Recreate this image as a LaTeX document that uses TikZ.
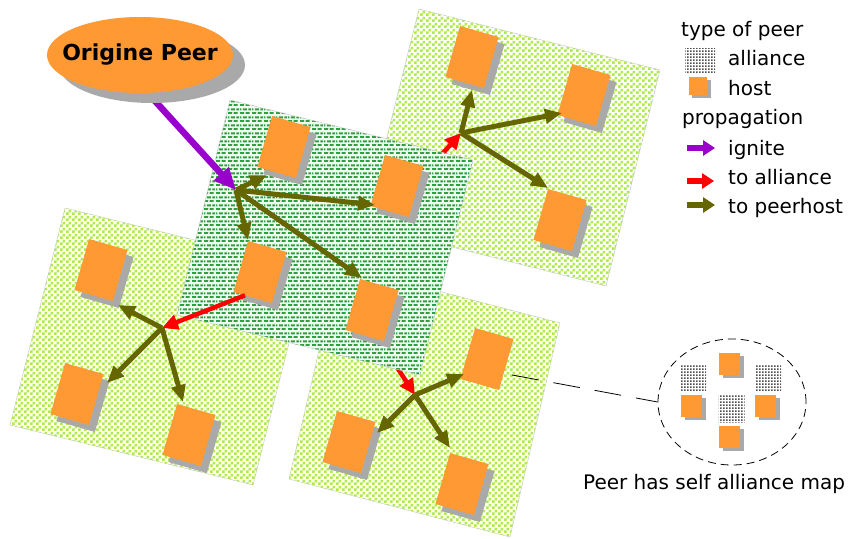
\documentclass[tikz,border=0pt]{standalone}
\usepackage{fontspec}
\setmainfont{DejaVu Sans}
\usetikzlibrary{arrows.meta,shapes.geometric,shadows,patterns,calc}

\definecolor{hostorange}{HTML}{FF9933}
\definecolor{shadowgray}{HTML}{A9A9A9}
\definecolor{ignitepurple}{HTML}{9900CC}
\definecolor{alliancered}{HTML}{FF0000}
\definecolor{peerolive}{HTML}{666600}
\definecolor{limedot}{HTML}{AEEB48}
\definecolor{greendash}{HTML}{2EA040}
\definecolor{greenbase}{HTML}{F2F9F2}
\definecolor{griddot}{HTML}{505050}

\pgfdeclarepatternformonly{lightdots}{\pgfqpoint{0pt}{0pt}}{\pgfqpoint{6pt}{6pt}}{\pgfqpoint{6pt}{6pt}}{%
  \pgfpathrectangle{\pgfqpoint{0pt}{0pt}}{\pgfqpoint{3pt}{3pt}}%
  \pgfpathrectangle{\pgfqpoint{3pt}{3pt}}{\pgfqpoint{3pt}{3pt}}%
  \pgfusepath{fill}}

\pgfdeclarepatternformonly{darkdash}{\pgfqpoint{0pt}{0pt}}{\pgfqpoint{12pt}{8pt}}{\pgfqpoint{12pt}{8pt}}{%
  \pgfpathrectangle{\pgfqpoint{0pt}{0pt}}{\pgfqpoint{4.5pt}{2.2pt}}%
  \pgfpathrectangle{\pgfqpoint{6pt}{0pt}}{\pgfqpoint{4.5pt}{2.2pt}}%
  \pgfpathrectangle{\pgfqpoint{3pt}{4pt}}{\pgfqpoint{4.5pt}{2.2pt}}%
  \pgfpathrectangle{\pgfqpoint{9pt}{4pt}}{\pgfqpoint{3pt}{2.2pt}}%
  \pgfpathrectangle{\pgfqpoint{0pt}{4pt}}{\pgfqpoint{1.5pt}{2.2pt}}%
  \pgfusepath{fill}}

\pgfdeclarepatternformonly{finegrid}{\pgfqpoint{0pt}{0pt}}{\pgfqpoint{3pt}{3pt}}{\pgfqpoint{3pt}{3pt}}{%
  \pgfpathrectangle{\pgfqpoint{0pt}{0pt}}{\pgfqpoint{2pt}{2pt}}%
  \pgfusepath{fill}}

\tikzset{
  region/.style={preaction={fill=white}, pattern=lightdots, pattern color=limedot, draw=gray!45, line width=0.4pt},
  allianceregion/.style={preaction={fill=greenbase}, pattern=darkdash, pattern color=greendash, draw=gray!45, line width=0.4pt},
  hostbox/.style={rectangle, fill=hostorange, minimum width=40pt, minimum height=53pt, inner sep=0pt, outer sep=0pt, rotate=-16},
  hostshadow/.style={drop shadow={shadow xshift=6pt, shadow yshift=-7pt, fill=shadowgray, opacity=1}},
  smallhost/.style={rectangle, fill=hostorange, minimum width=21pt, minimum height=22pt, inner sep=0pt,
    drop shadow={shadow xshift=4pt, shadow yshift=-3pt, fill=shadowgray, opacity=1}},
  alliancesq/.style={rectangle, preaction={fill=white}, pattern=finegrid, pattern color=griddot, minimum width=26pt, minimum height=27pt, inner sep=0pt},
  peer/.style={draw=peerolive, line width=5pt, -{Triangle[length=17pt,width=14pt]}},
  toall/.style={draw=alliancered, line width=4.5pt, -{Triangle[length=16pt,width=15pt]}},
  ignite/.style={draw=ignitepurple, line width=6.5pt, -{Triangle[length=22pt,width=19pt]}},
  legarrow/.style={line width=6pt, -{Triangle[length=12pt,width=15pt]}},
  lbl/.style={anchor=base west, inner sep=0pt, font=\fontsize{20}{24}\selectfont},
}

\begin{document}
\begin{tikzpicture}[x=1pt,y=-1pt]
\useasboundingbox (0,0) rectangle (848,538);

% hubs and free ends
\coordinate (hubC) at (236,190);
\coordinate (hubL) at (162,328);
\coordinate (hubT) at (461,133);
\coordinate (hubB) at (415,395);
\coordinate (redTstart) at (426,172);
\coordinate (redBstart) at (389,355);
\coordinate (ignStart) at (145,90);

% peer regions
\path[region] (65,208) -- (308,268) -- (253,485) -- (10,425) -- cycle;
\path[region] (419,9) -- (660,70) -- (606,286) -- (365,225) -- cycle;
\path[region] (339,265) -- (560,323) -- (510,537) -- (289,479) -- cycle;

% propagation to other alliances (partly hidden)
\draw[toall] (redTstart) -- (hubT);
\draw[toall] (redBstart) -- (hubB);

% alliance region
\path[allianceregion] (230,100) -- (473,160) -- (420,375) -- (177,315) -- cycle;

% hosts
\node[hostbox,hostshadow] (h1) at (284,147) {};
\node[hostbox,hostshadow] (h2) at (397,186) {};
\node[hostbox,hostshadow] (h3) at (260,272) {};
\node[hostbox,hostshadow] (h4) at (372,310) {};
\node[hostbox,hostshadow] (h5) at (472,57) {};
\node[hostbox,hostshadow] (h6) at (584,95) {};
\node[hostbox,hostshadow] (h7) at (560,220) {};
\node[hostbox,hostshadow] (h8) at (101,270) {};
\node[hostbox,hostshadow] (h9) at (77,394) {};
\node[hostbox,hostshadow] (h10) at (189,435) {};
\node[hostbox] (h11) at (487,359) {};
\node[hostbox,hostshadow] (h12) at (349,442) {};
\node[hostbox,hostshadow] (h13) at (462,484) {};

% arrow tips at hosts
\coordinate (t1) at (267,175);
\coordinate (t2) at (375,205);
\coordinate (t3) at (248,240);
\coordinate (t4) at (362,278);
\coordinate (t5) at (472,90);
\coordinate (t6) at (562,113);
\coordinate (t7) at (548,188);
\coordinate (t8) at (118,305);
\coordinate (t9) at (107,383);
\coordinate (t10) at (183,402);
\coordinate (t11) at (464,374);
\coordinate (t12) at (377,433);
\coordinate (t13) at (450,448);

% propagation inside alliances
\draw[peer] (hubC) -- (t1);
\draw[peer] (hubC) -- (t2);
\draw[peer] (hubC) -- (t3);
\draw[peer] (hubC) -- (t4);
\draw[peer] (hubT) -- (t5);
\draw[peer] (hubT) -- (t6);
\draw[peer] (hubT) -- (t7);
\draw[peer] (hubL) -- (t8);
\draw[peer] (hubL) -- (t9);
\draw[peer] (hubL) -- (t10);
\draw[peer] (hubB) -- (t11);
\draw[peer] (hubB) -- (t12);
\draw[peer] (hubB) -- (t13);

\draw[toall] ($(h3.south west)!0.6!(h3.south)$) -- (hubL);

% origin
\draw[ignite] (ignStart) -- (hubC);
\node[ellipse, fill=hostorange, minimum width=186pt, minimum height=76pt, inner sep=0pt,
  drop shadow={shadow xshift=12pt, shadow yshift=-10pt, fill=shadowgray, opacity=1}] (origin) at (140,55) {};
\node[font=\fontsize{22}{26}\selectfont\bfseries, inner sep=0pt] (originText) at (origin.center) {Origine Peer};

% legend
\node[lbl] (lgType) at (681,36) {type of peer};
\node[alliancesq, minimum width=30pt, minimum height=24pt] (lgAll) at (700,60) {};
\node[lbl] (lgAllT) at (728,65) {alliance};
\node[smallhost, minimum width=18pt, minimum height=18pt, drop shadow={shadow xshift=3pt, shadow yshift=-3pt, fill=shadowgray, opacity=1}] (lgHost) at (698,86) {};
\node[lbl] (lgHostT) at (728,95) {host};
\node[lbl] (lgProp) at (682,124) {propagation};
\coordinate (lgI1) at (687,148); \coordinate (lgI2) at (715,148);
\coordinate (lgA1) at (687,181); \coordinate (lgA2) at (714,181);
\coordinate (lgP1) at (687,205); \coordinate (lgP2) at (715,205);
\draw[legarrow, draw=ignitepurple] (lgI1) -- (lgI2);
\draw[legarrow, draw=alliancered] (lgA1) -- (lgA2);
\draw[legarrow, draw=peerolive] (lgP1) -- (lgP2);
\node[lbl] (lgIgn) at (728,155) {ignite};
\node[lbl] (lgAll2) at (728,184) {to alliance};
\node[lbl] (lgPeer) at (728,213) {to peerhost};

% callout
\node[draw, ellipse, dash pattern=on 8pt off 5pt, line width=0.8pt, minimum width=148pt, minimum height=126pt] (map) at (732,402) {};
\coordinate (callStart) at (512,375);
\draw[dash pattern=on 27pt off 15pt, line width=0.8pt] (callStart) -- (map.west);
\node[alliancesq] (ma1) at (693,377.5) {};
\node[alliancesq] (ma2) at (768,377.5) {};
\node[alliancesq] (ma3) at (731.5,408.5) {};
\node[smallhost] (mh1) at (729.5,364) {};
\node[smallhost] (mh2) at (691.5,406) {};
\node[smallhost] (mh3) at (765.5,406) {};
\node[smallhost] (mh4) at (729.5,437) {};
\node[lbl] (cap) at (583,489) {Peer has self alliance map};
\end{tikzpicture}
\end{document}
